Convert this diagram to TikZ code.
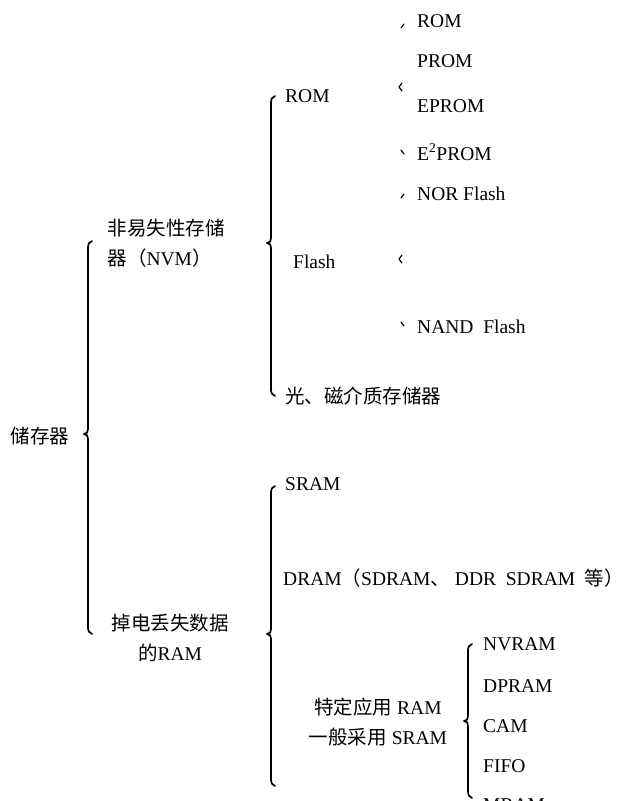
\documentclass[tikz,border=0pt]{standalone}
\usepackage{fontspec}
\setmainfont{Liberation Serif}
\newfontfamily\cjk{Noto Sans CJK SC}
\tikzset{
  txt/.style={font=\fontsize{19.5}{30}\selectfont, inner sep=0pt, anchor=west, text height=13pt, text depth=3pt},
  ctxt/.style={font=\fontsize{19.5}{30}\selectfont, inner sep=0pt, align=center},
  brl/.style={line width=1.7pt, line cap=round, line join=round},
  frag/.style={line width=1.2pt, line cap=round, line join=round}
}
% x, top, tip, bottom
\newcommand\brc[4]{%
  \draw[brl] (#1+4,#2-1) .. controls (#1+1,#2) and (#1,#2+2) .. (#1,#2+6) -- (#1,#3-5)
    .. controls (#1,#3-2) and (#1-1,#3) .. (#1-4,#3)
    .. controls (#1-1,#3) and (#1,#3+2) .. (#1,#3+5) -- (#1,#4-6)
    .. controls (#1,#4-2) and (#1+1,#4) .. (#1+4,#4+1);}
\newcommand\brcfrag[4]{%
  \draw[frag] (#1+1,#2+3) -- (#1+4,#2-1);
  \draw[frag] (#1+2,#3-4) -- (#1-1,#3) -- (#1+2,#3+4);
  \draw[frag] (#1+1,#4-3) -- (#1+4,#4+1);}
\begin{document}
\begin{tikzpicture}[x=1pt,y=-1pt]
\useasboundingbox (0,0) rectangle (631,801);
\clip (0,0) rectangle (631,801);
% level 0
\node[ctxt] (mem) at (40,436) {\cjk 储存器};
\brc{88}{242}{434}{633}
% level 1
\node[ctxt, align=left] (nvm) at (166,243) {{\cjk 非易失性存储}\\{\cjk 器（}NVM{\cjk ）}};
\node[ctxt] (ram) at (170,638) {{\cjk 掉电丢失数据}\\{\cjk 的}RAM};
\brc{271}{97}{243}{395}
\brc{271}{487}{634}{785}
% NVM children
\node[txt] (rom) at (285,97) {ROM};
\node[txt] (flash) at (293,263) {Flash};
\node[txt] (opt) at (285,398) {\cjk 光、磁介质存储器};
\brcfrag{400}{25}{87}{153}
\brcfrag{400}{195}{259}{325}
\node[txt] (rom1) at (417,22) {ROM};
\node[txt] (prom) at (417,62) {PROM};
\node[txt] (eprom) at (417,107) {EPROM};
\node[txt] (eeprom) at (417,155) {E\textsuperscript{2}PROM};
\node[txt] (nor) at (417,195) {NOR Flash};
\node[txt] (nand) at (417,328) {NAND~~Flash};
% RAM children
\node[txt] (sram) at (285,485) {SRAM};
\node[txt] (dram) at (283,580) {DRAM{\cjk （}SDRAM{\cjk 、}~DDR~~SDRAM~~{\cjk 等）}};
\node[ctxt] (spec) at (378,722) {{\cjk 特定应用} RAM\\{\cjk 一般采用} SRAM};
\brc{468}{645}{721}{797}
\node[txt] (nvram) at (483,645) {NVRAM};
\node[txt] (dpram) at (483,687) {DPRAM};
\node[txt] (cam) at (483,727) {CAM};
\node[txt] (fifo) at (483,767) {FIFO};
\node[txt] (mram) at (483,806) {MRAM};
\end{tikzpicture}
\end{document}
